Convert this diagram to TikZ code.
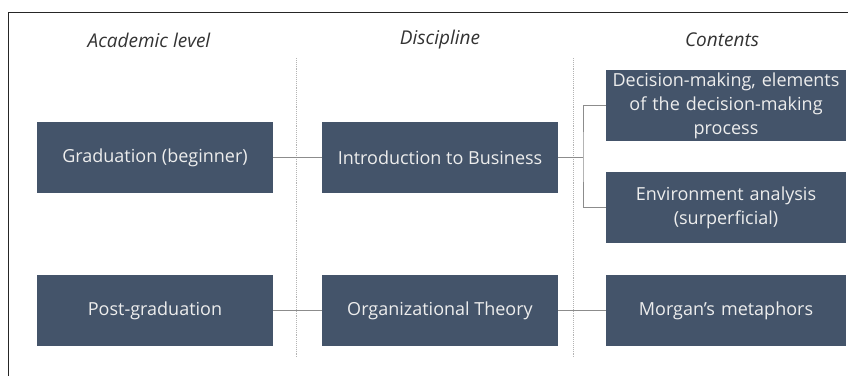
\documentclass[tikz,border=0pt]{standalone}
\usepackage{fontspec}
\setmainfont{Open Sans}
\definecolor{boxfill}{HTML}{44546A}
\definecolor{linkgray}{HTML}{8C8C8C}
\definecolor{divgray}{HTML}{B4B4B4}
\begin{document}
\begin{tikzpicture}[x=1pt,y=-1pt,
  cell/.style={fill=boxfill, draw=none, text=white!93!black, minimum width=236pt, minimum height=71pt,
    inner sep=2pt, align=center, font=\fontsize{18}{24}\selectfont},
  widecell/.style={cell, minimum width=238pt, text width=236pt},
  header/.style={font=\fontsize{19}{22}\selectfont\itshape, text=black!80},
  link/.style={draw=linkgray, line width=1pt},
  divider/.style={draw=divgray, line width=0.9pt, densely dotted}]
  \useasboundingbox (0,0) rectangle (848,376);
  % outer frame (left and top edges)
  \draw[line width=1.3pt, black!85] (8.5,376) -- (8.5,12.5) -- (848,12.5);

  % column headers
  \node[header] (hA) at (149,40) {Academic level};
  \node[header] (hD) at (440,40) {Discipline};
  \node[header] (hC) at (722,40) {Contents};

  % column dividers
  \coordinate (d1t) at (296,58);
  \coordinate (d1b) at (296,357);
  \coordinate (d2t) at (573,58);
  \coordinate (d2b) at (573,357);
  \draw[divider] (d1t) -- (d1b);
  \draw[divider] (d2t) -- (d2b);

  % boxes
  \node[cell] (grad) at (155,157.5) {Graduation (beginner)};
  \node[cell] (intro) at (440,157.5) {Introduction to Business};
  \node[widecell] (dec) at (726,105.5) {Decision-making, elements\\of the decision-making\\process};
  \node[widecell] (env) at (726,207.5) {Environment analysis\\(surperficial)};
  \node[cell] (post) at (155,310.5) {Post-graduation};
  \node[cell] (org) at (440,310.5) {Organizational Theory};
  \node[widecell] (morg) at (726,310.5) {Morgan's metaphors};

  % connectors
  \coordinate (fork) at (583,157.5);
  \draw[link] (grad) -- (intro);
  \draw[link] (intro) -- (fork);
  \draw[link] (dec.west) -| (fork) |- (env.west);
  \draw[link] (post) -- (org);
  \draw[link] (org) -- (morg);
\end{tikzpicture}
\end{document}
